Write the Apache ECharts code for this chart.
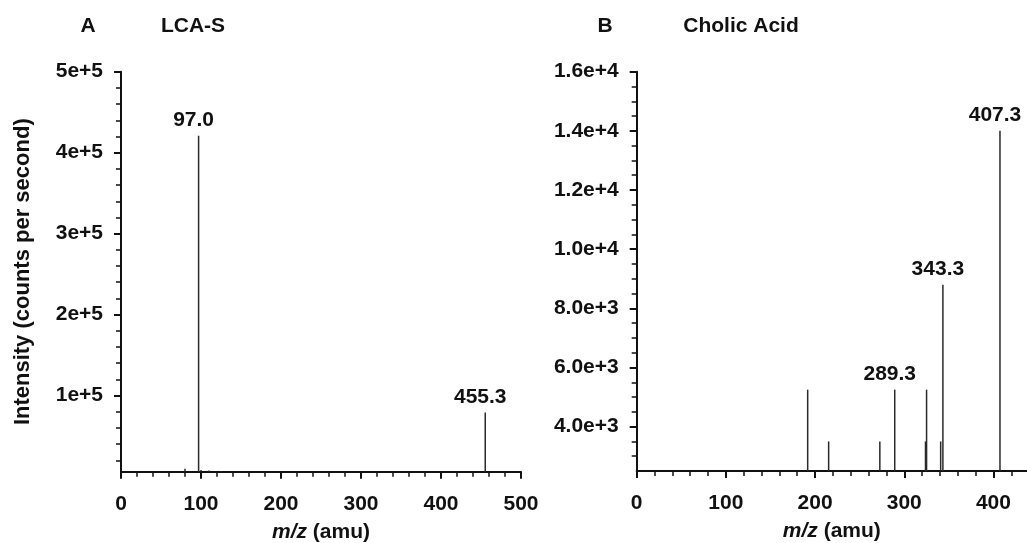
<!DOCTYPE html>
<html>
<head>
<meta charset="utf-8">
<style>
html,body{margin:0;padding:0;background:#fff;}
#chart{width:1027px;height:543px;}
</style>
<script src="https://cdn.jsdelivr.net/npm/echarts@6/dist/echarts.min.js"></script>
</head>
<body>
<div id="chart"></div>
<script>
// ---- Panel A: LCA-S ----
const mzA = [80, 97.0, 100, 110, 125, 455.3];
const intensityA = [9500, 421000, 8000, 7500, 7000, 79000];
const peakLabelsA = ['', '97.0', '', '', '', '455.3'];
const yTicksA = [100000, 200000, 300000, 400000, 500000];
const yTickLabelsA = ['1e+5', '2e+5', '3e+5', '4e+5', '5e+5'];
const xTicksA = [0, 100, 200, 300, 400, 500];

// ---- Panel B: Cholic Acid ----
const mzB = [191.7, 215.2, 272.6, 289.3, 323.8, 325.0, 340.8, 343.3, 407.3];
const intensityB = [5250, 3500, 3500, 5250, 3500, 5250, 3500, 8800, 14000];
const peakLabelsB = ['', '', '', '289.3', '', '', '', '343.3', '407.3'];
const yTicksB = [4000, 6000, 8000, 10000, 12000, 14000, 16000];
const yTickLabelsB = ['4.0e+3', '6.0e+3', '8.0e+3', '1.0e+4', '1.2e+4', '1.4e+4', '1.6e+4'];
const xTicksB = [0, 100, 200, 300, 400];

const titles = [
  {text: 'A', x: 88, y: 26},
  {text: 'LCA-S', x: 193, y: 26},
  {text: 'B', x: 605, y: 26},
  {text: 'Cholic Acid', x: 741, y: 26}
];

function range(a, b, step) { const r = []; for (let v = a; v <= b + 1e-9; v += step) r.push(v); return r; }

const FONT = 'Liberation Sans, Arial, sans-serif';
const FS = 21;
const INK = '#111';

function peakData(xs, ys, labels) {
  return xs.map((x, i) => {
    const item = {value: [x, ys[i]]};
    if (labels[i]) item.label = {show: true, formatter: labels[i]};
    return item;
  });
}

function majorX(gridIndex, min, max, ticks, showName) {
  return {
    type: 'value', gridIndex, min, max, position: 'bottom',
    name: showName ? '{i|m/z} (amu)' : '',
    nameLocation: 'middle', nameGap: 50,
    nameTextStyle: {fontFamily: FONT, fontSize: FS, fontWeight: 'bold', color: INK,
      rich: {i: {fontFamily: FONT, fontSize: FS, fontWeight: 'bold', fontStyle: 'italic', color: INK}}},
    axisLine: {show: true, onZero: false, lineStyle: {color: INK, width: 2}},
    axisTick: {show: true, customValues: ticks, length: 7, lineStyle: {color: INK, width: 2}},
    axisLabel: {show: true, customValues: ticks, margin: 22, fontFamily: FONT, fontSize: FS, fontWeight: 'bold', color: INK},
    splitLine: {show: false}
  };
}
function minorX(gridIndex, min, max, ticks) {
  return {
    type: 'value', gridIndex, min, max, position: 'bottom',
    axisLine: {show: false, onZero: false},
    axisTick: {show: true, customValues: ticks, length: 5, lineStyle: {color: INK, width: 1.5}},
    axisLabel: {show: false},
    splitLine: {show: false}
  };
}
function majorY(gridIndex, min, max, ticks, labels, name) {
  return {
    type: 'value', gridIndex, min, max, position: 'left',
    name: name || '', nameLocation: 'middle', nameGap: 87,
    nameTextStyle: {fontFamily: FONT, fontSize: 22, fontWeight: 'bold', color: INK},
    axisLine: {show: true, onZero: false, lineStyle: {color: INK, width: 2}},
    axisTick: {show: true, customValues: ticks, length: 7, lineStyle: {color: INK, width: 2}},
    axisLabel: {show: true, customValues: ticks, margin: 18, fontFamily: FONT, fontSize: FS, fontWeight: 'bold', color: INK,
      formatter: function (v) { const i = ticks.indexOf(v); return i >= 0 ? labels[i] : ''; }},
    splitLine: {show: false}
  };
}
function minorY(gridIndex, min, max, ticks) {
  return {
    type: 'value', gridIndex, min, max, position: 'left',
    axisLine: {show: false, onZero: false},
    axisTick: {show: true, customValues: ticks, length: 5, lineStyle: {color: INK, width: 1.5}},
    axisLabel: {show: false},
    splitLine: {show: false}
  };
}

const labelStyle = {position: 'top', distance: 5, offset: [-5, 0], fontFamily: FONT, fontSize: FS, fontWeight: 'bold', color: INK};

const option = {
  backgroundColor: '#fff',
  animation: false,
  textStyle: {fontFamily: FONT},
  graphic: titles.map(t => ({
    type: 'text', x: t.x, y: t.y,
    style: {text: t.text, fontFamily: FONT, fontSize: 21, fontWeight: 'bold', fill: INK, align: 'center', verticalAlign: 'middle'}
  })),
  grid: [
    {left: 121, top: 71.7, width: 400, height: 400, containLabel: false, outerBoundsMode: 'none'},
    {left: 636.7, top: 71.7, width: 390.3, height: 399.3, containLabel: false, outerBoundsMode: 'none'}
  ],
  xAxis: [
    majorX(0, 0, 500, xTicksA, true),
    minorX(0, 0, 500, range(20, 480, 20).filter(v => v % 100 !== 0)),
    majorX(1, 0, 437.6, xTicksB, true),
    minorX(1, 0, 437.6, range(20, 420, 20).filter(v => v % 100 !== 0))
  ],
  yAxis: [
    majorY(0, 6000, 500000, yTicksA, yTickLabelsA, 'Intensity (counts per second)'),
    minorY(0, 6000, 500000, range(20000, 480000, 20000).filter(v => v % 100000 !== 0)),
    majorY(1, 2500, 16000, yTicksB, yTickLabelsB, ''),
    minorY(1, 2500, 16000, range(3000, 15500, 500).filter(v => v % 2000 !== 0))
  ],
  series: [
    {
      type: 'bar', xAxisIndex: 0, yAxisIndex: 0, barWidth: 1.5, clip: true,
      itemStyle: {color: '#2a2a2a'},
      label: labelStyle,
      data: peakData(mzA, intensityA, peakLabelsA)
    },
    {
      type: 'bar', xAxisIndex: 2, yAxisIndex: 2, barWidth: 1.5, clip: true,
      itemStyle: {color: '#2a2a2a'},
      label: labelStyle,
      data: peakData(mzB, intensityB, peakLabelsB)
    }
  ]
};

const chart = echarts.init(document.getElementById('chart'), null, {renderer: 'canvas'});
chart.setOption(option);
</script>
</body>
</html>
